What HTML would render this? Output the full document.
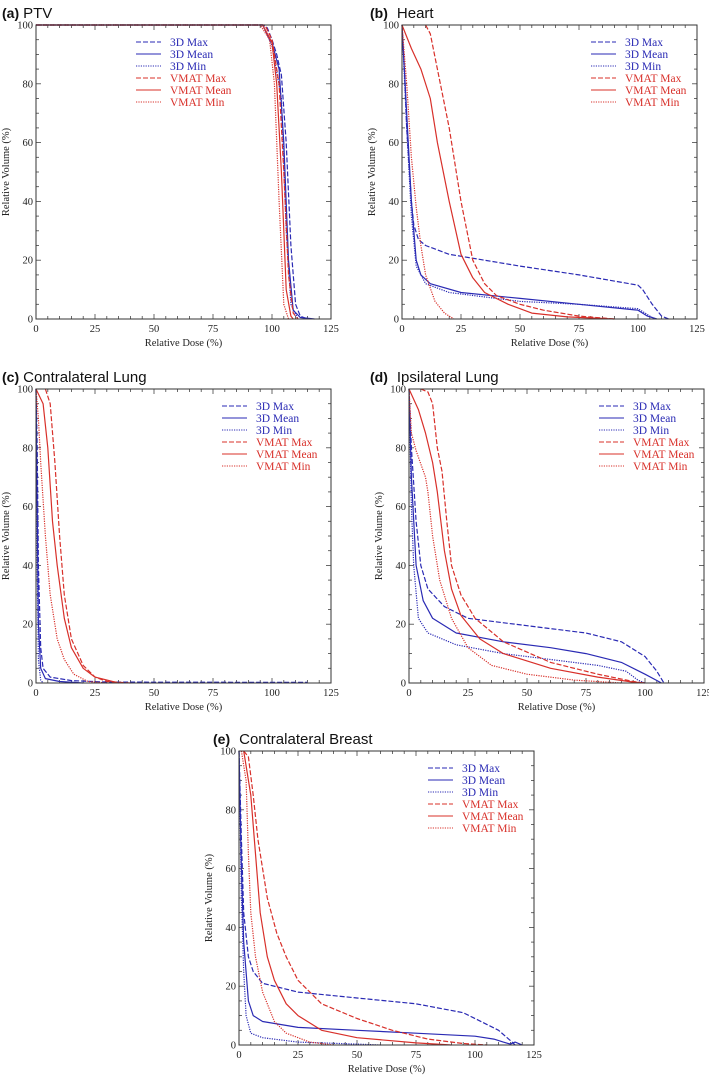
<!DOCTYPE html>
<html><head><meta charset="utf-8">
<style>
html,body{margin:0;padding:0;background:#fff;}
svg{display:block;}
.ttl{font-family:"Liberation Sans",sans-serif;font-size:15px;fill:#111;}
.ttlb{font-family:"Liberation Sans",sans-serif;font-size:14px;font-weight:bold;fill:#111;}
.tk{font-family:"Liberation Serif",serif;font-size:10.5px;fill:#222;}
.lg{font-family:"Liberation Serif",serif;font-size:11.5px;}
</style></head>
<body>
<svg id="fig" width="709" height="1077" viewBox="0 0 709 1077"></svg>
<script>
const seriesNames = ["3D Max","3D Mean","3D Min","VMAT Max","VMAT Mean","VMAT Min"];
const xTicks = [0,25,50,75,100,125];
const yTicks = [0,20,40,60,80,100];
// Panel data: [dose %, volume %]
const ptv3dMax=[[0,100],[96,100],[98,99],[100,95],[102,90],[104,83],[106,60],[108,25],[110,5],[112,1],[115,0]];
const ptv3dMean=[[0,100],[96,100],[100,94],[103,85],[105,60],[107,20],[109,3],[112,0.5],[118,0]];
const ptv3dMin=[[0,100],[96,100],[100,93],[104,75],[106,30],[108,5],[111,0]];
const ptvVMax=[[0,100],[97,100],[100,95],[103,80],[105,50],[107,15],[109,2],[111,0]];
const ptvVMean=[[0,100],[96,100],[100,94],[102,80],[104,50],[106,10],[108,1],[109,0]];
const ptvVMin=[[0,100],[95,100],[99,95],[101,80],[103,40],[105,5],[107,0]];

const hrt3dMax=[[0,100],[1,85],[2,65],[4,40],[5,32],[7,27],[10,25],[20,22],[50,18],[75,15],[100,11.5],[102,10],[106,5],[110,1],[113,0]];
const hrt3dMean=[[0,100],[2,70],[4,40],[6,20],[8,15],[12,12],[25,9],[50,7],[75,5],[100,3],[104,1],[108,0]];
const hrt3dMin=[[0,100],[2,65],[4,35],[6,18],[10,12],[20,9],[50,6],[75,5],[100,3.5],[103,2],[107,0]];
const hrtVMax=[[10,100],[12,97],[15,85],[20,65],[25,40],[30,20],[35,12],[40,8],[50,5],[60,3],[75,1],[90,0]];
const hrtVMean=[[0,100],[4,92],[8,85],[12,75],[15,60],[20,40],[25,22],[30,14],[35,9],[45,5],[55,2],[70,0.7],[90,0]];
const hrtVMin=[[0,100],[2,80],[4,55],[6,38],[8,25],[10,15],[14,6],[18,2],[22,0]];

const cl3dMax=[[0,100],[0.5,80],[1,40],[2,12],[3,5],[6,2],[15,0.8],[30,0.3],[115,0.2]];
const cl3dMean=[[0,100],[0.5,60],[1,20],[2,5],[4,1.5],[10,0.5],[20,0]];
const cl3dMin=[[0,100],[0.5,40],[1,8],[2,1],[3,0]];
const clVMax=[[4,100],[6,95],[8,75],[10,50],[12,30],[15,15],[20,6],[25,2],[30,0.5],[40,0]];
const clVMean=[[0,100],[3,95],[5,80],[7,55],[9,40],[12,22],[15,12],[20,5],[25,2],[35,0]];
const clVMin=[[0,100],[1,90],[2,75],[4,50],[6,30],[9,15],[12,8],[16,3],[22,0.5],[30,0]];

const il3dMax=[[0,100],[1,80],[3,55],[5,40],[8,32],[15,26],[25,22],[50,19.5],[75,17],[90,14],[100,9],[105,4],[108,0]];
const il3dMean=[[0,100],[1,70],[3,40],[6,28],[10,22],[20,17],[40,14],[60,12],[75,10],[90,7],[100,3],[107,0]];
const il3dMin=[[0,100],[1,60],[2,40],[4,22],[8,17],[20,13],[40,10],[60,8],[80,6],[92,4],[97,1],[100,0]];
const ilVMax=[[5,100],[8,99],[10,95],[12,80],[14,72],[16,55],[18,40],[22,30],[28,22],[40,14],[60,7],[80,3],[95,0.5],[100,0]];
const ilVMean=[[0,100],[4,93],[7,85],[10,75],[12,65],[15,45],[18,32],[22,23],[30,15],[40,10],[60,5],[80,2],[95,0.3],[100,0]];
const ilVMin=[[0,100],[1,85],[3,79],[7,70],[8,65],[10,50],[13,35],[18,22],[25,12],[35,6],[50,3],[70,1],[90,0]];

const cb3dMax=[[0,100],[1,70],[2,45],[4,30],[6,25],[10,21],[25,18],[50,16],[75,14],[95,11],[105,7],[110,5],[115,1.5],[117,0]];
const cb3dMean=[[0,100],[1,60],[2,35],[4,15],[6,10],[10,8],[25,6],[50,5],[75,4],[100,3],[108,2],[112,1],[115,0.3],[117,1],[120,0]];
const cb3dMin=[[0,100],[1,50],[2,25],[3,10],[5,4],[10,2.5],[25,1],[50,0.3],[60,0]];
const cbVMax=[[2,100],[4,98],[6,85],[8,70],[12,50],[16,38],[20,30],[25,22],[35,14],[50,9],[65,5],[80,2],[95,0.5],[105,0]];
const cbVMean=[[2,100],[5,85],[7,65],[9,45],[12,30],[15,22],[20,14],[25,10],[35,5],[50,2.5],[75,0.7],[90,0]];
const cbVMin=[[1,100],[3,90],[4,65],[5,45],[7,30],[10,18],[15,8],[20,4],[30,1],[40,0]];

const NS="http://www.w3.org/2000/svg";
const svg=document.getElementById('fig');
const BLUE="#2a2ab4", RED="#d8302a";
const styles=[[BLUE,"5,2"],[BLUE,null],[BLUE,"1.2,1.2"],[RED,"5,2"],[RED,null],[RED,"1.2,1.2"]];
function mk(tag,attrs,parent){const e=document.createElementNS(NS,tag);for(const k in attrs)e.setAttribute(k,attrs[k]);(parent||svg).appendChild(e);return e;}

const panels=[
 {id:"ptv",lab:"(a)",title:"PTV",bx:36,by:25,tx:2,ty:18,gap:false,lgx:100,data:[ptv3dMax,ptv3dMean,ptv3dMin,ptvVMax,ptvVMean,ptvVMin]},
 {id:"heart",lab:"(b)",title:"Heart",bx:402,by:25,tx:370,ty:18,gap:true,lgx:189,data:[hrt3dMax,hrt3dMean,hrt3dMin,hrtVMax,hrtVMean,hrtVMin]},
 {id:"contralateral-lung",lab:"(c)",title:"Contralateral Lung",bx:36,by:389,tx:2,ty:382,gap:false,lgx:186,data:[cl3dMax,cl3dMean,cl3dMin,clVMax,clVMean,clVMin]},
 {id:"ipsilateral-lung",lab:"(d)",title:"Ipsilateral Lung",bx:409,by:389,tx:370,ty:382,gap:true,lgx:190,data:[il3dMax,il3dMean,il3dMin,ilVMax,ilVMean,ilVMin]},
 {id:"contralateral-breast",lab:"(e)",title:"Contralateral Breast",bx:239,by:751,tx:213,ty:744,gap:true,lgx:189,data:[cb3dMax,cb3dMean,cb3dMin,cbVMax,cbVMean,cbVMin]}
];
const W=295,H=294;
panels.forEach(p=>{
 const g=mk('g',{});
 
 
 const xs=v=>p.bx+v/125*W, ys=v=>p.by+H-v/100*H;
 const t=mk('text',{x:p.tx,y:p.ty,class:'ttl'},g);
 
 
 const a=mk('tspan',{class:'ttlb','font-size':'14'},t);a.textContent=p.lab;
 const b=mk('tspan',{dx:p.gap?'9':'4'},t);b.textContent=p.title;
 for(let v=0;v<=125;v+=5){const L=(v%25===0)?5:3;const x=xs(v);
  mk('line',{x1:x,y1:p.by+H,x2:x,y2:p.by+H-L,stroke:'#444','stroke-width':0.8},g);
  mk('line',{x1:x,y1:p.by,x2:x,y2:p.by+L,stroke:'#444','stroke-width':0.8},g);}
 for(let v=0;v<=100;v+=5){const L=(v%20===0)?5:3;const y=ys(v);
  mk('line',{x1:p.bx,y1:y,x2:p.bx+L,y2:y,stroke:'#444','stroke-width':0.8},g);
  mk('line',{x1:p.bx+W,y1:y,x2:p.bx+W-L,y2:y,stroke:'#444','stroke-width':0.8},g);}
 xTicks.forEach(v=>{const e=mk('text',{x:xs(v),y:p.by+H+13,class:'tk','text-anchor':'middle'},g);e.textContent=v;
  
  });
 yTicks.forEach(v=>{const e=mk('text',{x:p.bx-3,y:ys(v)+3.5,class:'tk','text-anchor':'end'},g);e.textContent=v;
  
  });
 const xt=mk('text',{x:p.bx+W/2,y:p.by+H+27,class:'tk','text-anchor':'middle'},g);xt.textContent='Relative Dose (%)';
 
 
 const yx=p.bx-27, yy=p.by+H/2;
 const yt=mk('text',{x:yx,y:yy,class:'tk','text-anchor':'middle',transform:`rotate(-90 ${yx} ${yy})`},g);yt.textContent='Relative Volume (%)';
 
 
 p.data.forEach((d,i)=>{
  const pts=d.map(q=>xs(q[0]).toFixed(1)+','+ys(q[1]).toFixed(1)).join(' ');
  const pl=mk('polyline',{points:pts,fill:'none',stroke:styles[i][0],'stroke-width':1.2,'stroke-linejoin':'round'},g);
  if(styles[i][1])pl.setAttribute('stroke-dasharray',styles[i][1]);
  
  
 });
 seriesNames.forEach((n,i)=>{
  const y=p.by+17+i*12;
  const ll=mk('line',{x1:p.bx+p.lgx,y1:y,x2:p.bx+p.lgx+25,y2:y,stroke:styles[i][0],'stroke-width':1.1},g);
  if(styles[i][1])ll.setAttribute('stroke-dasharray',styles[i][1]);
  const lt=mk('text',{x:p.bx+p.lgx+34,y:y+4,class:'lg',fill:styles[i][0]},g);lt.textContent=n;
  
  
 });
 const box=mk('rect',{x:p.bx,y:p.by,width:W,height:H,fill:'none',stroke:'#333','stroke-width':1},g);
 
 
});
</script>
</body></html>
